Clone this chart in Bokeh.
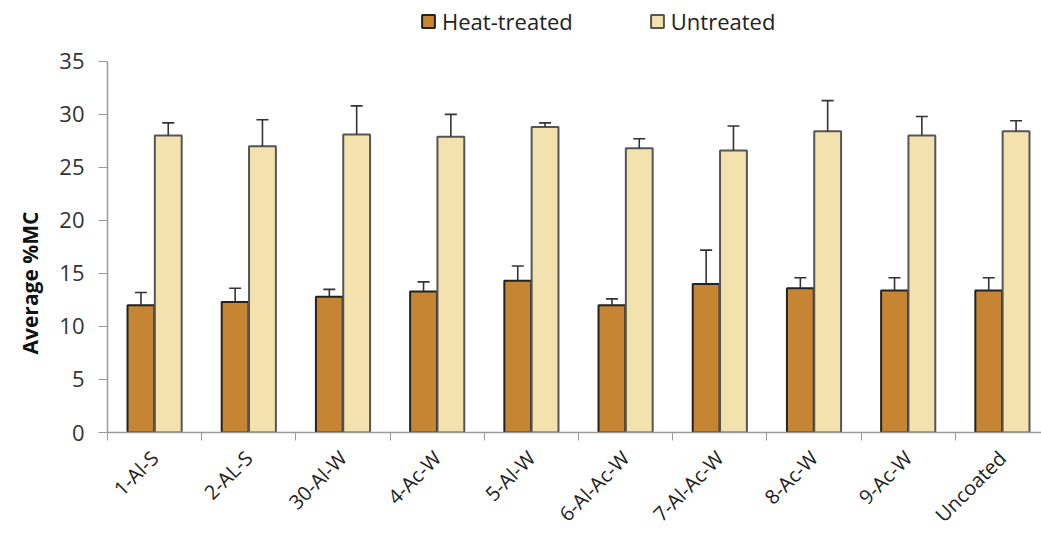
import math
from bokeh.plotting import figure
from bokeh.models import (ColumnDataSource, Range1d, FixedTicker, Whisker, TeeHead,
                          Legend, LegendItem, Title)
from bokeh.embed import file_html
from bokeh.resources import INLINE

categories = ["1-Al-S", "2-AL-S", "30-Al-W", "4-Ac-W", "5-Al-W", "6-Al-Ac-W",
              "7-Al-Ac-W", "8-Ac-W", "9-Ac-W", "Uncoated"]
heat_mean = [12.0, 12.3, 12.8, 13.3, 14.3, 12.0, 14.0, 13.6, 13.4, 13.4]
heat_err = [13.2, 13.6, 13.5, 14.2, 15.7, 12.6, 17.2, 14.6, 14.6, 14.6]
untr_mean = [28.0, 27.0, 28.1, 27.9, 28.8, 26.8, 26.6, 28.4, 28.0, 28.4]
untr_err = [29.2, 29.5, 30.8, 30.0, 29.2, 27.7, 28.9, 31.3, 29.8, 29.4]
y_ticks = [0, 5, 10, 15, 20, 25, 30, 35]

FONT = "Open Sans"
n = len(categories)
centers = [i + 0.5 for i in range(n)]
off = 0.145
bw = 0.285

heat_src = ColumnDataSource(dict(x=[c - off for c in centers], top=heat_mean,
                                 lower=heat_mean, upper=heat_err))
untr_src = ColumnDataSource(dict(x=[c + off for c in centers], top=untr_mean,
                                 lower=untr_mean, upper=untr_err))

# frame spans canvas y 0..433; value 35 sits at y=61
y_top = 35 + 61 * 35 / (433 - 61)

p = figure(width=1041, height=540, output_backend="svg", toolbar_location=None,
           x_range=Range1d(0, 9.915), y_range=Range1d(0, y_top),
           min_border_left=107, min_border_right=0, min_border_top=0,
           min_border_bottom=107)
p.outline_line_color = None
p.grid.visible = False
p.background_fill_color = "white"
p.border_fill_color = "white"

r_heat = p.vbar(x="x", top="top", width=bw, bottom=0, source=heat_src,
                fill_color="#C58533", line_color="#222222", line_width=2)
r_untr = p.vbar(x="x", top="top", width=bw, bottom=0, source=untr_src,
                fill_color="#F4E2AE", line_color="#555555", line_width=2)

for src in (heat_src, untr_src):
    w = Whisker(base="x", lower="lower", upper="upper", source=src,
                dimension="height", line_color="#333333", line_width=1.6,
                upper_head=TeeHead(size=12, line_color="#333333", line_width=1.6),
                lower_head=None, level="overlay")
    p.add_layout(w)

# x axis
xa = p.xaxis[0]
xa.ticker = FixedTicker(ticks=centers, minor_ticks=list(range(0, n + 1)))
xa.major_label_overrides = {c: cat for c, cat in zip(centers, categories)}
xa.major_tick_out = 0
xa.major_tick_in = 0
xa.minor_tick_out = 8
xa.minor_tick_in = 0
xa.minor_tick_line_color = "#9a9a9a"
xa.axis_line_color = "#9a9a9a"
xa.axis_line_width = 1.5
xa.major_label_orientation = math.pi / 4
xa.major_label_text_font = FONT
xa.major_label_text_font_size = "20px"
xa.major_label_text_color = "#222222"
xa.major_label_standoff = 14

# y axis
ya = p.yaxis[0]
ya.ticker = FixedTicker(ticks=y_ticks)
ya.bounds = (0, 35)
ya.minor_tick_line_color = None
ya.major_tick_out = 9
ya.major_tick_in = 0
ya.major_tick_line_color = "#9a9a9a"
ya.axis_line_color = "#9a9a9a"
ya.axis_line_width = 1.5
ya.major_label_text_font = FONT
ya.major_label_text_font_size = "22px"
ya.major_label_text_color = "#333333"
ya.major_label_standoff = 14

ytitle = Title(text="Average  %MC", align="left", offset=78,
               text_font=FONT, text_font_style="bold", text_font_size="21px",
               text_color="#111111", standoff=26)
p.add_layout(ytitle, "left")

legend = Legend(items=[LegendItem(label="Heat-treated", renderers=[r_heat]),
                       LegendItem(label="Untreated", renderers=[r_untr])],
                orientation="horizontal", location=(313, 396),
                label_text_font=FONT, label_text_font_size="22px",
                label_text_color="#222222", glyph_width=16, glyph_height=16,
                spacing=76, padding=0, margin=0, border_line_color=None,
                background_fill_alpha=0, label_standoff=6)
p.add_layout(legend)

open("out.html", "w").write(file_html(p, INLINE))
